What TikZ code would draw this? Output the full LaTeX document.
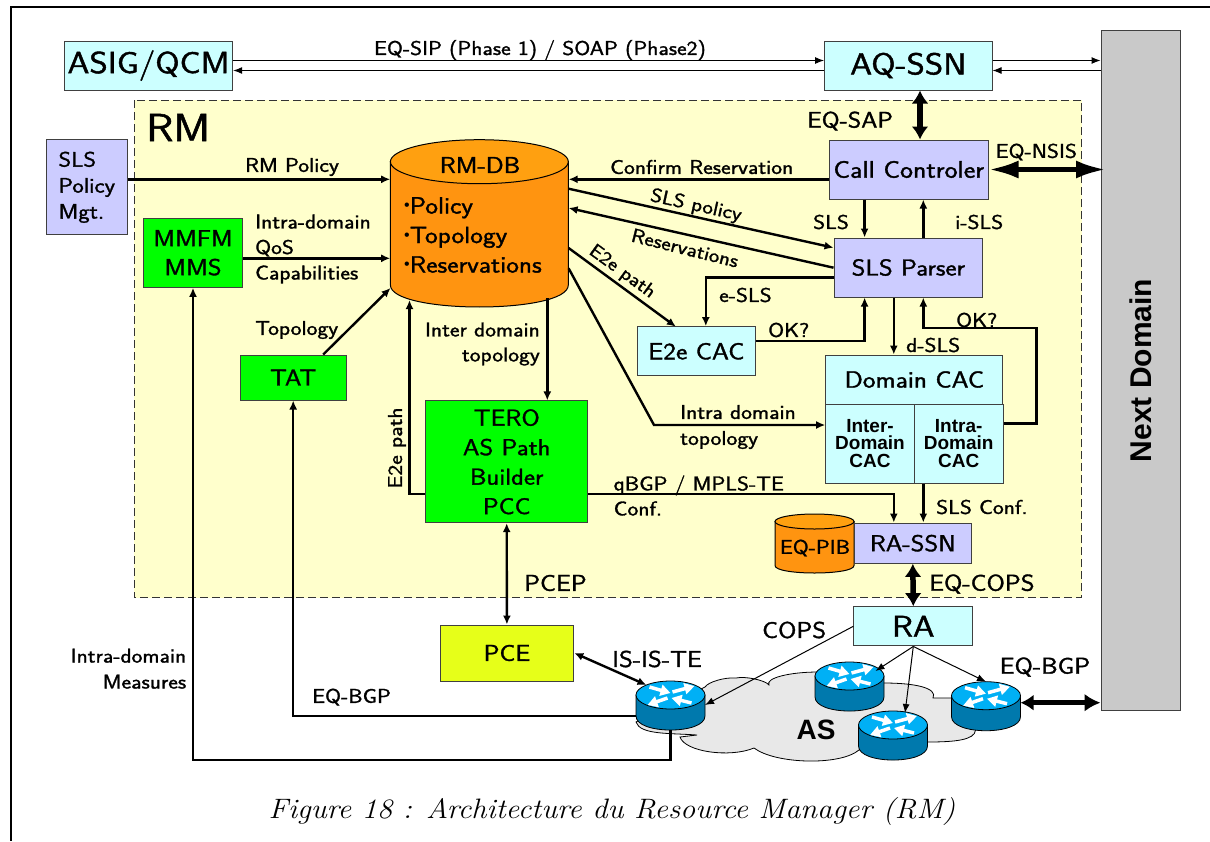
\documentclass[tikz,border=0pt]{standalone}
\usepackage{fontspec}
\usetikzlibrary{arrows.meta,calc}
\newfontfamily\labfont{Latin Modern Sans}[FakeStretch=1.15,RawFeature={embolden=1.4}]
\newfontfamily\capfont{Latin Modern Roman}[FakeStretch=1.08]
\newfontfamily\arialfont{Liberation Sans}
\definecolor{cyanbox}{HTML}{CCFFFF}
\definecolor{lilacbox}{HTML}{CCCCFF}
\definecolor{rmyellow}{HTML}{FFFFCC}
\definecolor{dborange}{HTML}{FF9410}
\definecolor{dbtop}{HTML}{FFA010}
\definecolor{pceyellow}{HTML}{E6FF19}
\definecolor{routertop}{HTML}{00B0F5}
\definecolor{routerside}{HTML}{0079AD}
\newcommand{\dbdrum}[5]{
	\draw[fill=dborange,line width=1pt] (#1,#3) -- (#1,#4) .. controls (#1,#4+1.333*#5) and (#2,#4+1.333*#5) .. (#2,#4) -- (#2,#3) -- cycle;
	\draw[fill=dbtop,line width=1pt] ({(#1+#2)/2},#3) ellipse[x radius={(#2-#1)/2},y radius=#5];
}
\newcommand{\itembullet}{{\arialfont\fontsize{16}{16}\selectfont\raisebox{3pt}{•}}}
\tikzset{
	sz/.style 2 args={inner sep=0pt,font=\labfont\fontsize{#1}{#2}\selectfont},
	box/.style={draw=black!75,line width=1pt,inner sep=0pt,align=center},
	cyanb/.style={box,fill=cyanbox},
	lilacb/.style={box,fill=lilacbox},
	greenb/.style={box,fill=green},
	wire/.style={line width=2.4pt,-{Latex[length=9pt,width=8pt]}},
	wiretwo/.style={line width=2.4pt,{Latex[length=9pt,width=8pt]}-{Latex[length=9pt,width=8pt]}},
	thin wire/.style={line width=1pt,-{Latex[length=9pt,width=7pt]}},
	fat wire/.style={line width=5.5pt,{Latex[length=13pt,width=17pt]}-{Latex[length=13pt,width=17pt]}},
	huge wire/.style={line width=5pt,{Latex[length=30pt,width=18pt]}-{Latex[length=30pt,width=18pt]}},
	router/.pic={
		\fill[routerside,draw=black,line width=.8pt] (-34.5,0) -- (-34.5,21) .. controls (-34.5,39.7) and (34.5,39.7) .. (34.5,21) -- (34.5,0) -- cycle;
		\fill[routertop,draw=black,line width=.8pt] (0,0) ellipse[x radius=34.5,y radius=14];
		\foreach \xa/\ya/\xb/\yb in {-21/-8/0/-2,2/-3/24/-9,-3/3/-23/10,21/8/1/3}{
			\draw[white,line width=3.5pt,-{Triangle[length=10pt,width=11pt]}] (\xa,\ya) -- (\xb,\yb);
		}
		\coordinate (-west) at (-34.5,10);
		\coordinate (-east) at (34.5,10);
		\coordinate (-south) at (0,35);
		\coordinate (-north) at (0,-14);
		\coordinate (-ne) at (26,-5);
		\coordinate (-nne) at (12,-12);
		\coordinate (-nw) at (-24,-10);
	},
}
\begin{document}
\begin{tikzpicture}[x=1pt,y=-1pt]
	\useasboundingbox (0,0) rectangle (1210,841);
	\draw[line width=2.4pt] (1210,7) -- (11,7) -- (11,841);
	\draw[fill=rmyellow,draw=black!80,dashed,dash pattern=on 8pt off 4pt,line width=.9pt] (134,100) rectangle (1081.7,597.7);
	\node[anchor=base west,sz={39}{39}] (rmtitle) at (146,141) {RM};

	% top row
	\node[cyanb,minimum width=168.4pt,minimum height=49pt,sz={30.5}{31}] (asig) at (148.5,65.5) {ASIG/QCM};
	\node[cyanb,minimum width=167.5pt,minimum height=49pt,sz={30.5}{31}] (aqssn) at (908.3,65.5) {AQ-SSN};
	\node[box,fill=black!21,minimum width=79pt,minimum height=680.3pt] (nextd) at (1140.5,370.8) {};
	\node[rotate=90,font=\arialfont\bfseries\fontsize{30}{30}\selectfont] (nextlabel) at (1141,370.5) {Next Domain};
	\draw[thin wire] ([yshift=5pt]asig.east) -- ([yshift=5pt]aqssn.west);
	\draw[thin wire] ([yshift=-5pt]aqssn.west) -- ([yshift=-5pt]asig.east);
	\draw[thin wire] ([yshift=5pt]aqssn.east) -- ([yshift=5pt]aqssn.east -| nextd.west);
	\draw[thin wire] ([yshift=-5pt]aqssn.east -| nextd.west) -- ([yshift=-5pt]aqssn.east);
	\node[sz={20}{20}] (siplabel) at (540,50) {EQ-SIP (Phase 1) / SOAP (Phase2)};

	% left column
	\node[lilacb,minimum width=81pt,minimum height=95.3pt,sz={21}{26},align=left] (slspol) at (86.8,187.3) {SLS\\Policy\\Mgt.};
	\node[greenb,minimum width=99pt,minimum height=69pt,sz={23}{29}] (mmfm) at (193,252.8) {MMFM\\MMS};
	\node[greenb,minimum width=106.3pt,minimum height=45pt,sz={23}{23}] (tat) at (293.2,377.5) {TAT};

	% database
	\dbdrum{390.4}{568.3}{161.7}{285}{22}
	\node[minimum width=178pt,minimum height=167pt,inner sep=0pt] (rmdb) at (479.4,223.2) {};
	\node[sz={23}{23}] (rmdblabel) at (480,165) {RM-DB};
	\node[anchor=west,sz={23.5}{29.5},align=left] (rmdbitems) at (404,235) {\itembullet Policy\\\itembullet Topology\\\itembullet Reservations};

	\draw[wire] (slspol.east |- 0,179.3) -- (rmdb.west |- 0,179.3);
	\node[sz={20}{20}] (polabel) at (292,167) {RM Policy};
	\draw[wire] (mmfm.east |- 0,258.3) -- (rmdb.west |- 0,258.3);
	\node[anchor=west,sz={20}{25.5},align=left] (qoslabel) at (255,249) {Intra-domain\\QoS\\Capabilities};
	\draw[wire] ([xshift=30pt]tat.north) -- (390.5,288);
	\node[anchor=west,sz={20}{20}] (toplabel) at (255,330) {Topology};

	% TERO and PCE
	\node[greenb,minimum width=161.5pt,minimum height=121.7pt,sz={23}{29.5}] (tero) at (506.7,461.8) {TERO\\AS Path\\Builder\\PCC};
	\node[box,fill=pceyellow,minimum width=133.7pt,minimum height=56pt,sz={23}{23}] (pce) at (506.9,653) {PCE};
	\draw[wire] (547.3,298) -- (tero.north -| 547.3,0);
	\node[anchor=east,sz={20}{25},align=right] (interlabel) at (540,344) {Inter domain\\topology};
	\draw[wire] (tero.west |- 0,494) -| (409.5,300);
	\node[rotate=90,sz={20}{20}] (e2elabel) at (397,448) {E2e path};
	\draw[wiretwo] (tero.south) -- (pce.north);
	\node[anchor=west,sz={23}{23}] (pceplabel) at (524,583) {PCEP};

	% right column
	\node[lilacb,minimum width=158.4pt,minimum height=59pt,sz={24}{24}] (callc) at (908.8,169.5) {Call Controler};
	\node[lilacb,minimum width=148.5pt,minimum height=59pt,sz={23}{23}] (parser) at (908.3,267.5) {SLS Parser};
	\node[cyanb,minimum width=118.6pt,minimum height=49.3pt,sz={23.5}{23.5}] (e2ecac) at (696.3,351.3) {E2e CAC};
	\node[cyanb,minimum width=177.3pt,minimum height=49pt,sz={23.5}{23.5}] (domcac) at (914.3,379.5) {Domain CAC};
	\node[cyanb,minimum width=88.6pt,minimum height=79pt,font=\arialfont\bfseries\fontsize{19}{17.5}\selectfont] (intercac) at (870,443.5) {Inter-\\Domain\\CAC};
	\node[cyanb,minimum width=88.7pt,minimum height=79pt,font=\arialfont\bfseries\fontsize{19}{17.5}\selectfont] (intracac) at (958.7,443.5) {Intra-\\Domain\\CAC};

	\draw[fat wire] (aqssn.south -| 920,0) -- (callc.north -| 920,0);
	\node[anchor=west,sz={22.5}{22.5}] (saplabel) at (807,121) {EQ-SAP};
	\draw[huge wire] (callc.east) -- (1106,169.5);
	\node[anchor=west,sz={20}{20}] (nsislabel) at (995.5,152) {EQ-NSIS};
	\draw[wire] (callc.west |- 0,179.3) -- (rmdb.east |- 0,179.3);
	\node[anchor=west,sz={20}{20}] (conflabel) at (610,167) {Confirm Reservation};
	\draw[wire] (rmdb.east |- 0,188.7) -- (parser.west |- 0,247.7);
	\node[rotate=-12.5,sz={19.5}{19.5}] (policylabel) at (696,206) {SLS policy};
	\draw[wire] (parser.west |- 0,267.7) -- (rmdb.east |- 0,208);
	\node[rotate=-14,sz={19.5}{19.5}] (reslabel) at (685,248) {Reservations};
	\draw[wire] (rmdb.east |- 0,248) -- (675.9,326.7);
	\node[rotate=-36,sz={19}{19}] (pathlabel) at (622,272) {E2e path};
	\draw[wire] (callc.south -| 864.6,0) -- (parser.north -| 864.6,0);
	\node[anchor=west,sz={20}{20}] (slslabel) at (813,222) {SLS};
	\draw[wire] (parser.north -| 923.3,0) -- (callc.south -| 923.3,0);
	\node[anchor=west,sz={20}{20}] (islabel) at (955,222) {i-SLS};
	\draw[wire] (parser.west |- 0,277.3) -| (e2ecac.north -| 705.8,0);
	\node[anchor=west,sz={20}{20}] (eslabel) at (719,295) {e-SLS};
	\draw[wire] (e2ecac.east |- 0,340.7) -| (parser.south -| 864.6,0);
	\node[anchor=west,sz={20}{20}] (oklabel) at (768,330) {OK?};
	\draw[wire] (parser.south -| 893.8,0) -- (domcac.north -| 893.8,0);
	\node[anchor=west,sz={20}{20}] (dslabel) at (906,345) {d-SLS};
	\draw[wire] (intracac.east |- 0,423.5) -| (1036.6,328) -| (parser.south -| 923.3,0);
	\node[anchor=west,sz={20}{20}] (oktwolabel) at (956,320) {OK?};
	\draw[wire] (rmdb.east |- 0,268.3) -- (654,425) -- (intercac.west |- 0,425);
	\node[anchor=west,sz={20}{26},align=left] (intralabel) at (680,427) {Intra domain\\topology};

	% RA-SSN
	\dbdrum{775}{854}{521.5}{565.5}{7.5}
	\node[sz={20}{20}] (piblabel) at (815,548) {EQ-PIB};
	\node[lilacb,minimum width=117.6pt,minimum height=40.3pt,sz={23}{23}] (rassn) at (912.8,543.2) {RA-SSN};
	\node[cyanb,minimum width=119pt,minimum height=39.3pt,sz={30}{30}] (ra) at (913.3,626.3) {RA};
	\draw[wire] (tero.east |- 0,494) -| (rassn.north -| 893.8,0);
	\node[anchor=west,sz={20}{25},align=left] (bgplabel) at (613.5,495.5) {qBGP / MPLS-TE\\Conf.};
	\draw[wire] (intracac.south -| 923.3,0) -- (rassn.north -| 923.3,0);
	\node[anchor=west,sz={20}{20}] (conflab) at (936,507) {SLS Conf.};
	\draw[fat wire] (rassn.south) -- (ra.north);
	\node[anchor=west,sz={23}{23}] (copslabel) at (929,584) {EQ-COPS};

	% AS cloud
	\draw[fill=black!9,line width=.8pt] (636,722) .. controls (640,735) and (670,733) .. (697,735) -- (680,737)
		.. controls (685,752) and (730,758) .. (754,748) .. controls (775,764) and (840,766) .. (859,750)
		-- (928,742) .. controls (955,742) and (975,740) .. (975.5,730) -- (952,698) -- (933,698)
		.. controls (938,688) and (915,683) .. (884,683) -- (818,672)
		.. controls (790,672) and (765,678) .. (769,685) .. controls (765,680) and (745,676) .. (736,678)
		.. controls (725,677) and (708,682) .. (705,687) -- cycle;
	\pic (rone) at (670.5,695) {router};
	\pic (rtwo) at (849.5,676) {router};
	\pic (rthree) at (893,725) {router};
	\pic (rfour) at (986,695.7) {router};
	\node[font=\arialfont\bfseries\fontsize{28}{28}\selectfont] (aslabel) at (816,730) {AS};

	\draw[thin wire] (ra.west) -- (rone-east);
	\draw[thin wire] (ra.south) -- (rtwo-ne);
	\draw[thin wire] (ra.south) -- (rthree-nne);
	\draw[thin wire] (ra.south) -- (rfour-north);
	\node[anchor=west,sz={23}{23}] (cops) at (762,630) {COPS};
	\draw[wiretwo] (pce.east) -- (rone-nw);
	\node[anchor=west,sz={23}{23}] (isislabel) at (612,659) {IS-IS-TE};
	\node[anchor=west,sz={23}{23}] (bgpright) at (999.5,667) {EQ-BGP};
	\draw[line width=5pt,{Latex[length=13pt,width=16pt]}-{Latex[length=16pt,width=18pt]}] (rfour-east |- 0,702.7) -- (nextd.west |- 0,702.7);

	% measures back to the tools
	\draw[wire] (rone-west |- 0,716) -| (tat.south);
	\node[anchor=west,sz={20}{20}] (bgplab) at (312,697) {EQ-BGP};
	\draw[wire] (rone-south) |- (193,760) -- (mmfm.south);
	\node[anchor=east,sz={20}{26},align=right] (measlabel) at (186.4,668.7) {Intra-domain\\Measures};

	\node[font=\capfont\itshape\fontsize{28.1}{28.1}\selectfont] (caption) at (612,811) {Figure 18 : Architecture du Resource Manager (RM)};
\end{tikzpicture}
\end{document}
